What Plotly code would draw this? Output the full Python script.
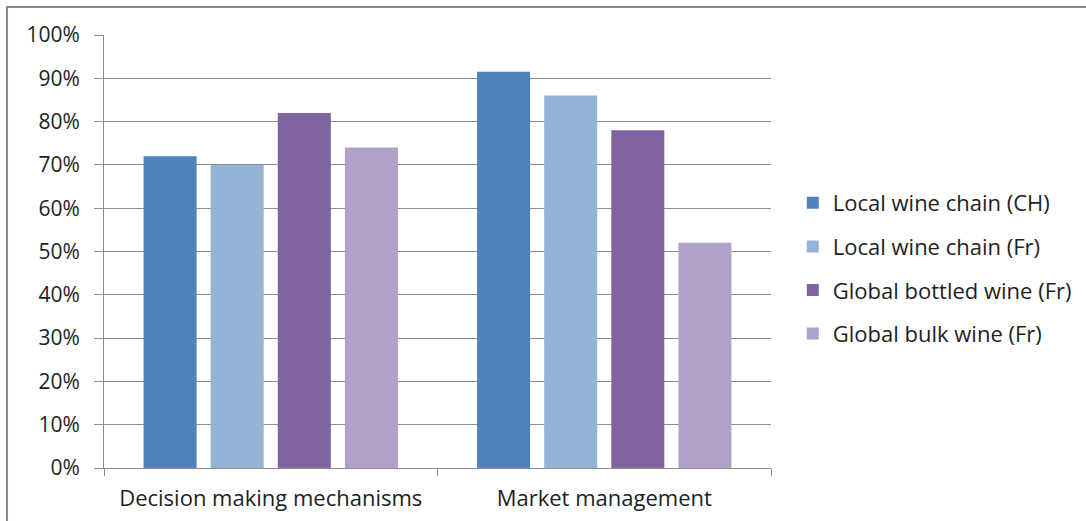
import plotly.graph_objects as go

categories = ["Decision making mechanisms", "Market management"]
series_names = ["Local wine chain (CH)", "Local wine chain (Fr)", "Global bottled wine (Fr)", "Global bulk wine (Fr)"]
local_ch = [72, 91.5]
local_fr = [70, 86]
global_bottled = [82, 78]
global_bulk = [74, 52]
colors = ["#4F81BD", "#95B3D7", "#8064A2", "#B2A1C7"]
y_ticks = list(range(0, 101, 10))
y_tick_labels = [f"{v}%" for v in y_ticks]

fig = go.Figure()
for i, (name, vals) in enumerate(zip(series_names, [local_ch, local_fr, global_bottled, global_bulk])):
    fig.add_trace(go.Bar(x=categories, y=vals, name=name, marker=dict(color=colors[i], line=dict(width=0)),
                         legendgroup=f"g{i}"))

FONT = "Open Sans"
FS = 21
fig.update_layout(
    width=1086, height=521,
    margin=dict(l=104, r=315, t=35, b=53, autoexpand=False),
    paper_bgcolor="white", plot_bgcolor="white",
    barmode="group", bargap=0.195, bargroupgap=0.21,
    font=dict(family=FONT, size=FS, color="#1e1e1e"),
    showlegend=True,
    legend=dict(xref="container", yref="container", x=0.730, y=0.4846, xanchor="left", yanchor="middle",
                font=dict(family=FONT, size=22, color="#1e1e1e"),
                tracegroupgap=12, itemwidth=30, traceorder="grouped"),
    xaxis=dict(showline=True, linecolor="#8c8c8c", linewidth=1, ticks="outside", ticklen=7,
               tickcolor="#8c8c8c", tickson="boundaries", showgrid=False, automargin=False,
               ticklabelstandoff=11,
               tickfont=dict(family=FONT, size=22, color="#1e1e1e")),
    yaxis=dict(range=[0, 100], tickvals=y_ticks, ticktext=y_tick_labels, showline=True,
               linecolor="#8c8c8c", linewidth=1, ticks="outside", ticklen=9, tickcolor="#8c8c8c",
               showgrid=True, gridcolor="#8c8c8c", gridwidth=1, zeroline=False, automargin=False,
               ticklabelstandoff=10,
               tickfont=dict(family=FONT, size=FS, color="#1e1e1e")),
    shapes=[dict(type="rect", xref="paper", yref="paper", x0=-0.1454, x1=1.6, y0=-0.3, y1=1.0647,
                 line=dict(color="#8a8a8a", width=2), fillcolor="rgba(0,0,0,0)", layer="above")],
)

fig.write_html("out.html")
